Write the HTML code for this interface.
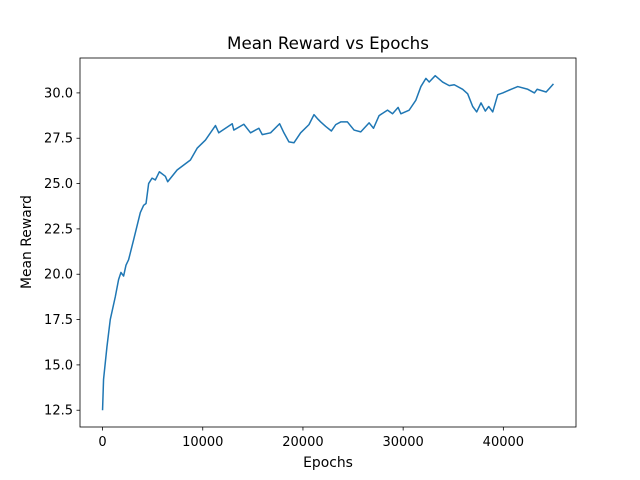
<!DOCTYPE html>
<html><head><meta charset="utf-8"><style>
body{margin:0;background:#fff;}
svg{display:block;font-family:"DejaVu Sans","Liberation Sans",sans-serif;}
</style></head><body>
<svg id="chart" width="640" height="480">
<rect width="640" height="480" fill="#fff"/>
<text x="328" y="49" text-anchor="middle" font-size="16.7">Mean Reward vs Epochs</text>
<text x="328" y="467" text-anchor="middle" font-size="13.9">Epochs</text>
<text transform="translate(31,242) rotate(-90)" text-anchor="middle" font-size="13.9">Mean Reward</text>
<g id="xt"></g>
<g id="yt"></g>
<path id="line" fill="none" stroke="#1f77b4" stroke-width="1.5" stroke-linejoin="round"/>
<rect x="80" y="58" width="496" height="369" fill="none" stroke="#000" stroke-width="0.8"/>
</svg>
<script>
const epochs=[0,100,440,770,1270,1600,1840,2100,2340,2600,3100,3770,4100,4340,4600,4940,5270,5670,6270,6500,7440,8770,9440,10270,11270,11600,12940,13100,14100,14770,15600,15940,16770,17670,18100,18600,19100,19770,20600,21100,21500,21770,22270,22840,23270,23770,24440,25100,25770,26600,27040,27600,28440,28940,29500,29770,30600,31270,31770,32270,32600,33200,33940,34600,35100,35940,36440,36940,37340,37770,38200,38540,38940,39440,39940,40770,41440,42440,43100,43370,44270,44600,45000];
const rewards=[12.5,14.2,16.0,17.5,18.75,19.7,20.1,19.9,20.5,20.8,21.9,23.4,23.8,23.9,25.0,25.3,25.2,25.65,25.4,25.1,25.75,26.3,26.95,27.4,28.2,27.8,28.3,27.95,28.27,27.8,28.05,27.7,27.8,28.3,27.8,27.3,27.25,27.8,28.25,28.8,28.55,28.4,28.15,27.9,28.25,28.4,28.4,27.95,27.85,28.35,28.05,28.75,29.05,28.85,29.2,28.85,29.05,29.6,30.35,30.8,30.6,30.95,30.6,30.4,30.45,30.2,29.95,29.25,28.95,29.45,29.0,29.25,28.95,29.9,30.0,30.2,30.35,30.2,30.0,30.2,30.05,30.25,30.5];
const xTicks=[0,10000,20000,30000,40000];
const yTicks=[12.5,15.0,17.5,20.0,22.5,25.0,27.5,30.0];
const NS="http://www.w3.org/2000/svg";
const X0=80,X1=576,Y0=58,Y1=427;
const xmin=-2250,xmax=47250,ymin=11.575,ymax=31.925;
function sx(v){return X0+(v-xmin)/(xmax-xmin)*(X1-X0);}
function sy(v){return Y1-(v-ymin)/(ymax-ymin)*(Y1-Y0);}
const xt=document.getElementById('xt'),yt=document.getElementById('yt');
xTicks.forEach(t=>{
 const l=document.createElementNS(NS,'line');
 l.setAttribute('x1',sx(t));l.setAttribute('x2',sx(t));l.setAttribute('y1',Y1);l.setAttribute('y2',Y1+3.5);l.setAttribute('stroke','#000');l.setAttribute('stroke-width','0.8');
 
 
 xt.appendChild(l);
 const tx=document.createElementNS(NS,'text');
 tx.setAttribute('x',sx(t));tx.setAttribute('y',Y1+19);tx.setAttribute('text-anchor','middle');tx.setAttribute('font-size','13');
 tx.textContent=String(t);
 
 
 xt.appendChild(tx);
});
yTicks.forEach(t=>{
 const l=document.createElementNS(NS,'line');
 l.setAttribute('x1',X0-3.5);l.setAttribute('x2',X0);l.setAttribute('y1',sy(t));l.setAttribute('y2',sy(t));l.setAttribute('stroke','#000');l.setAttribute('stroke-width','0.8');
 
 
 yt.appendChild(l);
 const tx=document.createElementNS(NS,'text');
 tx.setAttribute('x',X0-7);tx.setAttribute('y',sy(t)+4.5);tx.setAttribute('text-anchor','end');tx.setAttribute('font-size','13');
 tx.textContent=t.toFixed(1);
 
 
 yt.appendChild(tx);
});
document.getElementById('line').setAttribute('d',epochs.map((e,i)=>(i?'L':'M')+sx(e).toFixed(2)+','+sy(rewards[i]).toFixed(2)).join(''));
</script>
</body></html>
